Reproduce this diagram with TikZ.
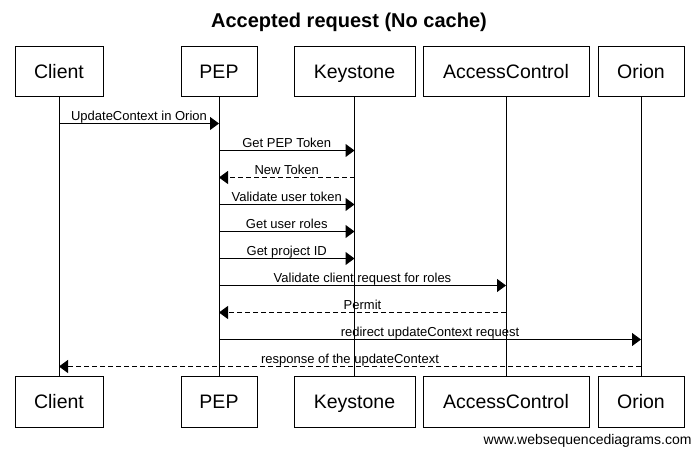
\documentclass[tikz,border=0pt]{standalone}
\usepackage{fontspec}
\setmainfont{Liberation Sans}
\usetikzlibrary{arrows.meta,positioning}

\begin{document}
\begin{tikzpicture}[x=1pt,y=-1pt,>={Triangle[length=9pt,width=13pt]},
        line width=1pt,
        actor/.style={rectangle,draw,minimum height=50pt,inner sep=0pt,text height=14pt,text depth=0pt,font=\fontsize{19.5}{24}\selectfont},
        msg/.style={->},
        reply/.style={->,dash pattern=on 5pt off 3pt},
        lbl/.style={above,inner sep=0.5pt,text height=9.5pt,text depth=2pt,font=\fontsize{13}{15}\selectfont}]

    \useasboundingbox (0,0) rectangle (697,449);
    \node[font=\fontsize{20}{24}\selectfont\bfseries] (title) at (349,22) {Accepted request (No cache)};

    % participants, top row
    \node[actor,minimum width=88pt] (client) at (59,72) {Client};
    \node[actor,minimum width=76pt] (pep) at (219,72) {PEP};
    \node[actor,minimum width=121pt] (keystone) at (354.5,72) {Keystone};
    \node[actor,minimum width=166pt] (access) at (506,72) {AccessControl};
    \node[actor,minimum width=86pt] (orion) at (641,72) {Orion};

    % participants, bottom row
    \node[actor,minimum width=88pt] (client2) [below=279pt of client] {Client};
    \node[actor,minimum width=76pt] (pep2) [below=279pt of pep] {PEP};
    \node[actor,minimum width=121pt] (keystone2) [below=279pt of keystone] {Keystone};
    \node[actor,minimum width=166pt] (access2) [below=279pt of access] {AccessControl};
    \node[actor,minimum width=86pt] (orion2) [below=279pt of orion] {Orion};

    % lifelines
    \draw (client.south) -- (client2.north);
    \draw (pep.south) -- (pep2.north);
    \draw (keystone.south) -- (keystone2.north);
    \draw (access.south) -- (access2.north);
    \draw (orion.south) -- (orion2.north);

    % messages
    \draw[msg] ([yshift=-26pt]client.south) -- node[lbl]{UpdateContext in Orion} ([yshift=-26pt]pep.south);
    \draw[msg] ([yshift=-53pt]pep.south) -- node[lbl]{Get PEP Token} ([yshift=-53pt]keystone.south);
    \draw[reply] ([yshift=-80pt]keystone.south) -- node[lbl]{New Token} ([yshift=-80pt]pep.south);
    \draw[msg] ([yshift=-107pt]pep.south) -- node[lbl]{Validate user token} ([yshift=-107pt]keystone.south);
    \draw[msg] ([yshift=-134pt]pep.south) -- node[lbl]{Get user roles} ([yshift=-134pt]keystone.south);
    \draw[msg] ([yshift=-161pt]pep.south) -- node[lbl]{Get project ID} ([yshift=-161pt]keystone.south);
    \draw[msg] ([yshift=-188pt]pep.south) -- node[lbl]{Validate client request for roles} ([yshift=-188pt]access.south);
    \draw[reply] ([yshift=-215pt]access.south) -- node[lbl]{Permit} ([yshift=-215pt]pep.south);
    \draw[msg] ([yshift=-242pt]pep.south) -- node[lbl]{redirect updateContext request} ([yshift=-242pt]orion.south);
    \draw[reply] ([yshift=-269pt]orion.south) -- node[lbl]{response of the updateContext} ([yshift=-269pt]client.south);

    \node[anchor=base east,inner sep=0pt,font=\fontsize{14}{16}\selectfont] (site) at (692,445) {www.websequencediagrams.com};
\end{tikzpicture}
\end{document}
